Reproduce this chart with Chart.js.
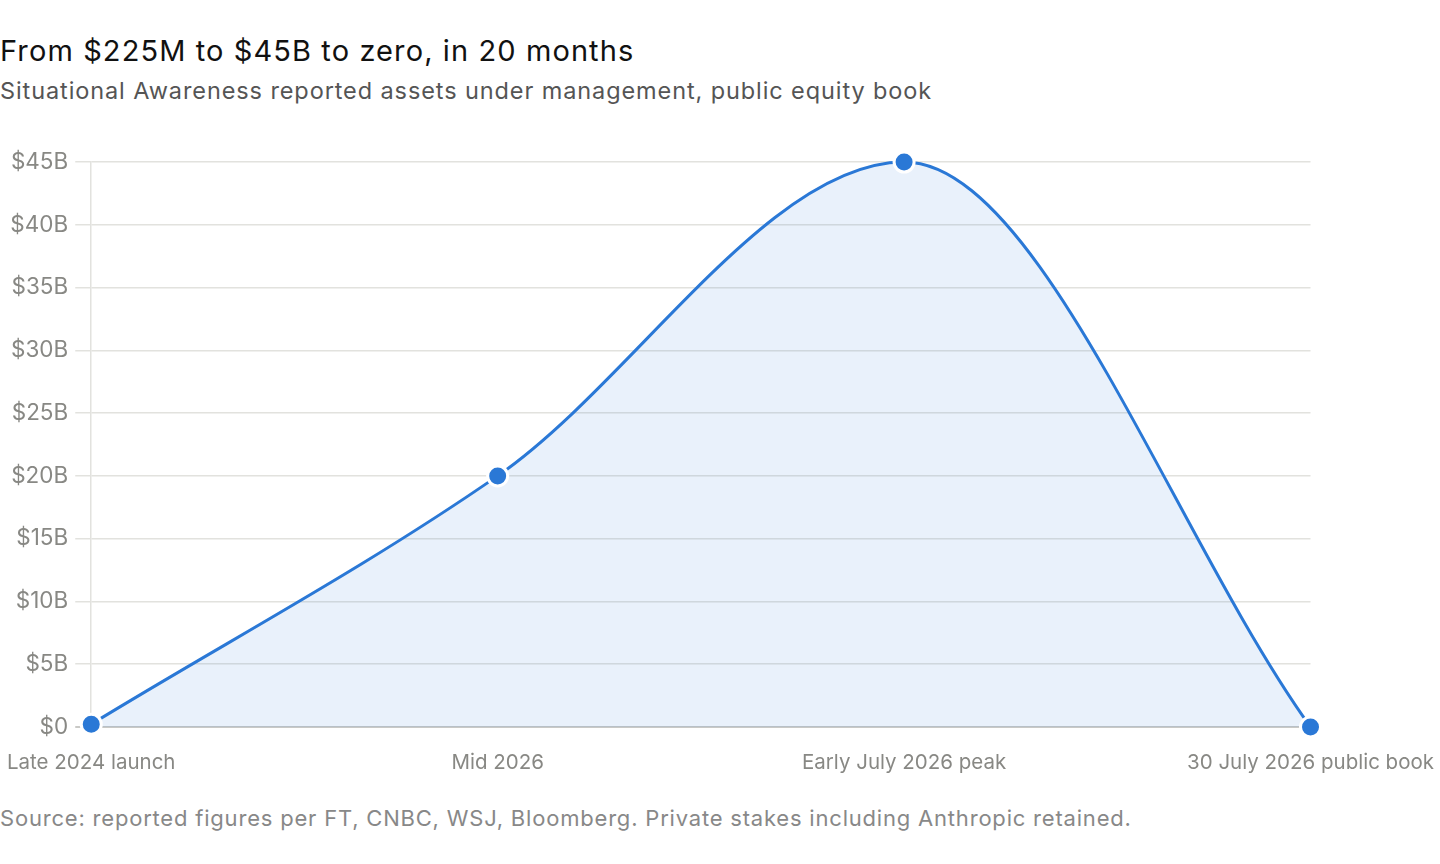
<!DOCTYPE html>
<html>
<head>
<meta charset="utf-8">
<script src="https://cdn.jsdelivr.net/npm/chart.js@4"></script>
<style>
  body { margin: 0; background: #fff; font-family: Inter, "Liberation Sans", Arial, sans-serif; overflow: hidden; }
  .page { position: relative; width: 1440px; height: 864px; overflow: hidden; }
  .title, .subtitle, .source { position: absolute; left: 0; line-height: 1; white-space: nowrap; }
  .title { top: 36px; font-size: 29px; letter-spacing: 1.1px; color: #111; }
  .subtitle { top: 79px; font-size: 23.5px; letter-spacing: 0.9px; color: #555; }
  .source { top: 807px; font-size: 22px; letter-spacing: 0.8px; color: #888; }
  .wrap { position: absolute; left: -9px; top: 140px; width: 1459px; height: 647px; }
</style>
</head>
<body>
<div class="page">
  <div class="title">From $225M to $45B to zero, in 20 months</div>
  <div class="subtitle">Situational Awareness reported assets under management, public equity book</div>
  <div class="wrap"><canvas id="aumChart"></canvas></div>
  <div class="source">Source: reported figures per FT, CNBC, WSJ, Bloomberg. Private stakes including Anthropic retained.</div>
</div>
<script>
const labels = ["Late 2024 launch", "Mid 2026", "Early July 2026 peak", "30 July 2026 public book"];
const aumBillions = [0.225, 20, 45, 0];
const yTicks = [0, 5, 10, 15, 20, 25, 30, 35, 40, 45];

const lineBlue = "#2a78d6";
const gridGrey = "#e2e2de";
const tickGrey = "#888884";

const ctx = document.getElementById("aumChart").getContext("2d");
const myChart = new Chart(ctx, {
  type: "line",
  data: {
    labels: labels,
    datasets: [
      {
        data: aumBillions,
        borderColor: lineBlue,
        borderWidth: 3,
        backgroundColor: "rgba(42, 120, 214, 0.10)",
        fill: "origin",
        cubicInterpolationMode: "monotone",
        pointRadius: 10,
        pointBackgroundColor: lineBlue,
        pointBorderColor: "#fff",
        pointBorderWidth: 3,
        clip: false,
      },
    ],
  },
  options: {
    responsive: true,
    maintainAspectRatio: false,
    animation: false,
    layout: { padding: { top: 22, right: 130, left: 0, bottom: 0 } },
    plugins: {
      legend: { display: false },
      tooltip: { enabled: false },
    },
    scales: {
      x: {
        offset: false,
        grid: { display: false },
        border: { display: false },
        afterFit: (axis) => { axis.height = 60; },
        ticks: {
          color: tickGrey,
          font: { family: "Inter", size: 20.5 },
          padding: 16,
          maxRotation: 0,
          autoSkip: false,
        },
      },
      y: {
        min: 0,
        max: 45,
        afterBuildTicks: (axis) => {
          axis.ticks = yTicks.map((v) => ({ value: v }));
        },
        afterFit: (axis) => { axis.width = 91; },
        grid: {
          color: (c) => (c.tick && c.tick.value === 0 ? "#c9c9c6" : gridGrey),
          lineWidth: (c) => (c.tick && c.tick.value === 0 ? 2 : 1.5),
          tickLength: 16,
        },
        border: { display: true, color: gridGrey, width: 1.5 },
        ticks: {
          color: tickGrey,
          font: { family: "Inter", size: 22.5 },
          padding: 7,
          callback: (v) => "$" + v + (v === 0 ? "" : "B"),
        },
      },
    },
  },
});
</script>
</body>
</html>
